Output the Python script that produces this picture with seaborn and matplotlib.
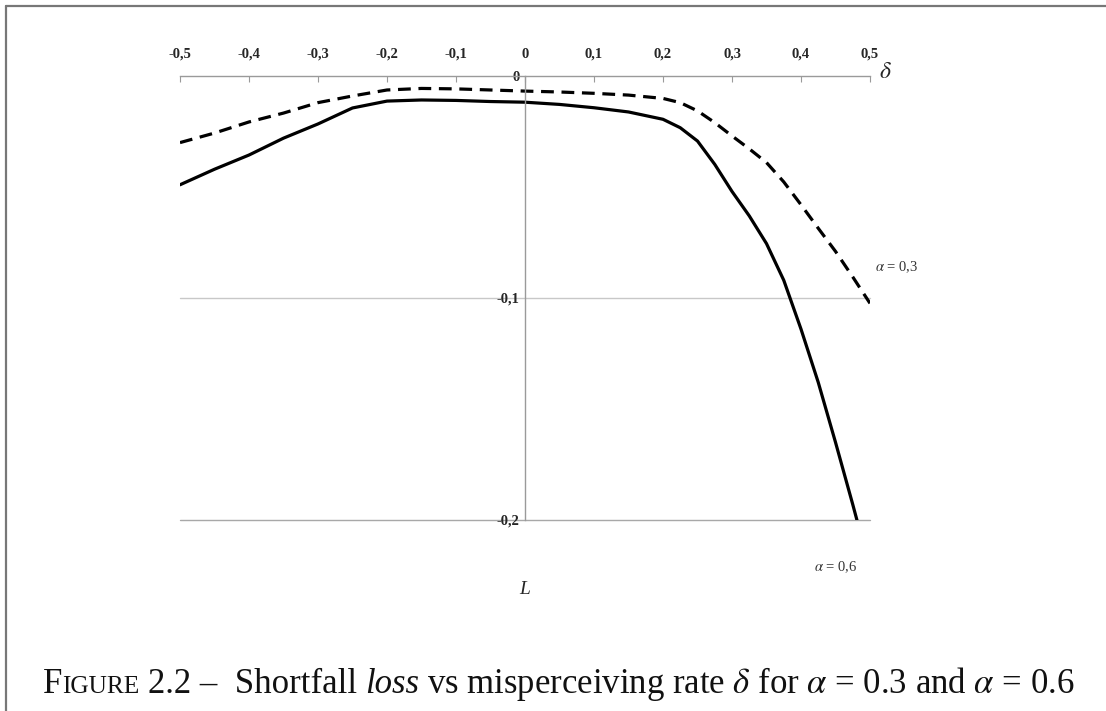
import numpy as np
import pandas as pd
import matplotlib
matplotlib.use("Agg")
import matplotlib.pyplot as plt
from matplotlib.lines import Line2D
import seaborn as sns

# ---- data ----
delta = [-0.5, -0.45, -0.4, -0.35, -0.3, -0.25, -0.2, -0.15, -0.1, -0.05,
         0.0, 0.05, 0.1, 0.15, 0.2, 0.225, 0.25, 0.275, 0.3, 0.325, 0.35,
         0.375, 0.4, 0.425, 0.45, 0.475, 0.5]
loss_a03 = [-0.030, -0.0257, -0.0207, -0.0167, -0.012, -0.009, -0.0063, -0.0056, -0.0058, -0.0063,
            -0.0068, -0.0072, -0.0078, -0.0086, -0.0101, -0.012, -0.0157, -0.021, -0.027, -0.0328, -0.039,
            -0.0477, -0.058, -0.0686, -0.079, -0.0905, -0.1024]
loss_a06 = [-0.049, -0.042, -0.0356, -0.028, -0.0216, -0.0144, -0.0113, -0.0108, -0.011, -0.0115,
            -0.0118, -0.0128, -0.0143, -0.0162, -0.0195, -0.0233, -0.0293, -0.0398, -0.052, -0.063, -0.0755,
            -0.092, -0.114, -0.138, -0.165, -0.193, -0.222]
x_ticks = [-0.5, -0.4, -0.3, -0.2, -0.1, 0.0, 0.1, 0.2, 0.3, 0.4, 0.5]
x_tick_labels = ["-0,5", "-0,4", "-0,3", "-0,2", "-0,1", "0", "0,1", "0,2", "0,3", "0,4", "0,5"]
y_ticks = [0.0, -0.1, -0.2]
y_tick_labels = ["0", "-0,1", "-0,2"]
series_labels = ["α = 0,3", "α = 0,6"]

df = pd.DataFrame({
    "delta": delta * 2,
    "loss": loss_a03 + loss_a06,
    "series": [series_labels[0]] * len(delta) + [series_labels[1]] * len(delta),
})

sns.set_theme(style="white")
plt.rcParams["font.family"] = ["Liberation Serif", "DejaVu Serif"]
plt.rcParams["mathtext.fontset"] = "stix"

W, H = 1106, 711
fig = plt.figure(figsize=(W / 100, H / 100), dpi=100)
ax = fig.add_axes([180 / W, 1 - 520 / H, 690 / W, 444 / H])

sns.lineplot(data=df, x="delta", y="loss", hue="series", style="series",
             palette={series_labels[0]: "black", series_labels[1]: "black"},
             dashes={series_labels[0]: (4, 2.4), series_labels[1]: ""},
             linewidth=2.3, legend=False, ax=ax)
for ln in ax.lines:
    ln.set_solid_joinstyle("round")
    ln.set_dash_joinstyle("round")

ax.set_xlim(-0.5, 0.5)
ax.set_ylim(-0.2, 0.0)
ax.set_xlabel("")
ax.set_ylabel("")

# spines
for s in ["right", "bottom"]:
    ax.spines[s].set_visible(False)
ax.spines["top"].set_color("#9a9a9a")
ax.spines["top"].set_linewidth(1.0)
ax.spines["left"].set_position(("data", 0))
ax.spines["left"].set_color("#9a9a9a")
ax.spines["left"].set_linewidth(1.0)

ax.xaxis.tick_top()
ax.set_xticks(x_ticks)
ax.set_xticklabels(x_tick_labels, fontweight="bold", fontsize=10.5)
ax.tick_params(axis="x", direction="in", length=4, width=0.8, color="#9a9a9a", pad=11)
ax.set_yticks(y_ticks)
ax.set_yticklabels(y_tick_labels, fontweight="bold", fontsize=10.5)
ax.tick_params(axis="y", length=0, pad=4)

for yv, col in [(-0.1, "#c8c8c8"), (-0.2, "#a8a8a8")]:
    ax.axhline(yv, color=col, linewidth=1.0, zorder=0, clip_on=False)

# annotations
fig.text(885 / W, 1 - 72 / H, r"$\delta$", fontsize=17, ha="center", va="center")
fig.text(525 / W, 1 - 590 / H, "L", fontsize=14, style="italic", ha="center", va="center")
fig.text(897 / W, 1 - 267 / H, r"$\alpha$ = 0,3", fontsize=10.5, color="#333333", ha="center", va="center")
fig.text(836 / W, 1 - 567 / H, r"$\alpha$ = 0,6", fontsize=10.5, color="#333333", ha="center", va="center")

# frame lines
fig.add_artist(Line2D([6 / W, 1.0], [1 - 6 / H, 1 - 6 / H], color="#777777", linewidth=1.6))
fig.add_artist(Line2D([6 / W, 6 / W], [0.0, 1 - 6 / H], color="#777777", linewidth=1.6))

# caption with small caps
fig.canvas.draw()
renderer = fig.canvas.get_renderer()
base_y = 1 - 693 / H
x = 43
space = 8
pieces = [("F", 25, "normal", 0), ("IGURE", 18.3, "normal", space), ("2.2 –  Shortfall", 25, "normal", space),
          ("loss", 25, "italic", space),
          (r"vs misperceiving rate $\delta$ for $\alpha$ = 0.3 and $\alpha$ = 0.6", 25, "normal", 0)]
for txt, fs, st, gap in pieces:
    t = fig.text(x / W, base_y, txt, fontsize=fs, style=st, va="baseline", ha="left", color="#111111")
    bb = t.get_window_extent(renderer)
    x = bb.x1 + gap

fig.savefig("out.png", dpi=100)
